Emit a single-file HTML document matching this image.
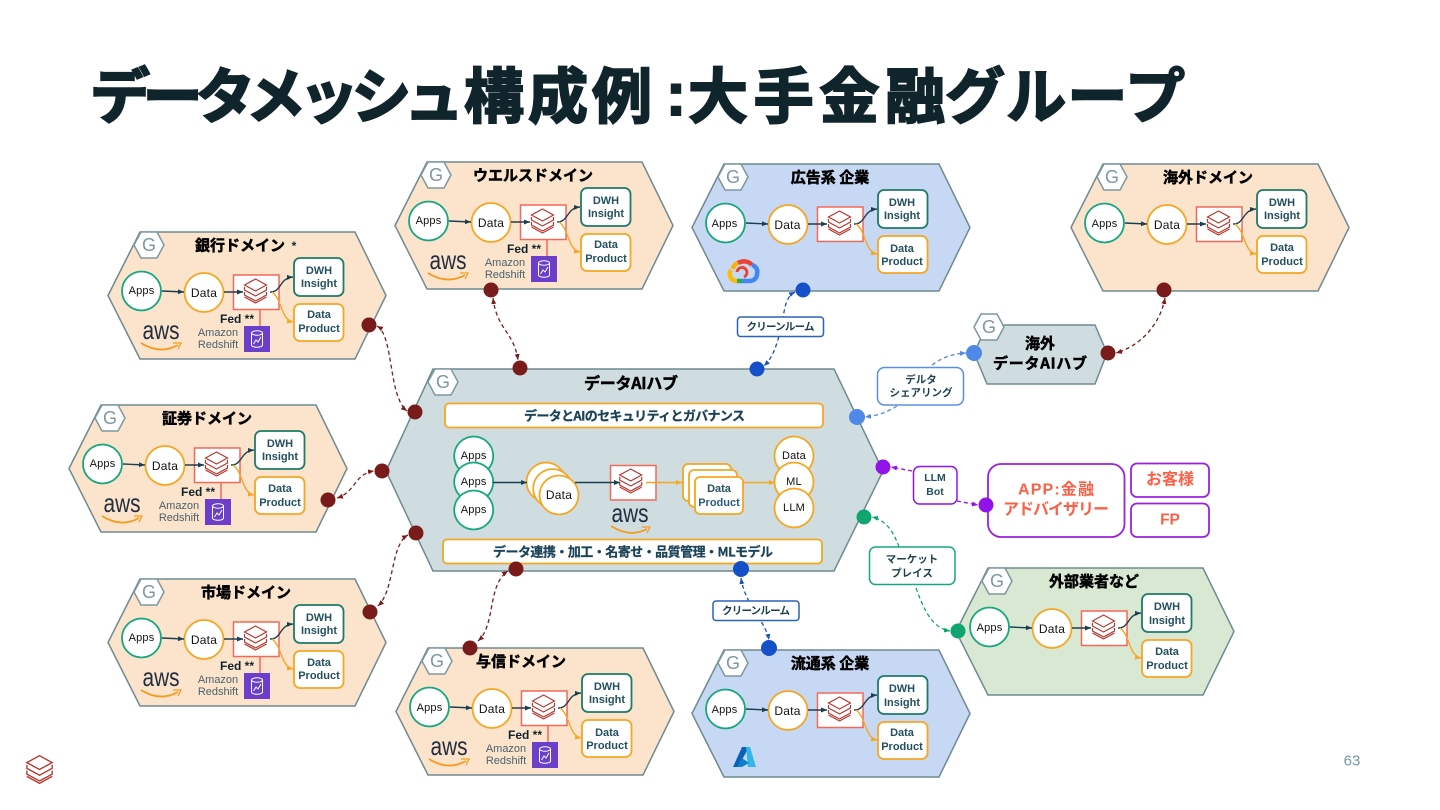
<!DOCTYPE html>
<html lang="ja"><head><meta charset="utf-8"><title>データメッシュ構成例</title>
<style>
html,body{margin:0;padding:0;background:#fff;width:1440px;height:810px;overflow:hidden}
svg{display:block}
text{font-family:"Liberation Sans","Noto Sans CJK JP",sans-serif;dominant-baseline:central;text-anchor:middle;fill:#12303c}
.t{font-family:"Liberation Sans","Noto Sans CJK JP",sans-serif;font-weight:700;font-size:60px;fill:#10242b;stroke:#10242b;stroke-width:2px;text-anchor:start}
.h{font-family:"Noto Sans CJK JP",sans-serif;font-weight:700;font-size:15px;fill:#000;stroke:#000;stroke-width:.5px}
.g{font-size:18px;fill:#7e98a0}
.a{font-size:11px;fill:#111;letter-spacing:.2px}
.d{font-size:12px;fill:#111;letter-spacing:.2px}
.b{font-size:11px;font-weight:700;fill:#24505f}
.f{font-size:12px;font-weight:700;fill:#10242b}
.r{font-size:11px;fill:#4b626c}
.w{font-size:26px;fill:#232f3e}
.l{font-family:"Noto Sans CJK JP",sans-serif;font-weight:700;font-size:10.5px;fill:#1b3f4e}
.m{font-family:"Noto Sans CJK JP",sans-serif;font-weight:700;font-size:13px;fill:#1b4258;stroke:#1b4258;stroke-width:.25px}
.o{font-family:"Liberation Sans","Noto Sans CJK JP",sans-serif;font-weight:700;font-size:16px;fill:#ff5f46}
.c{fill:none;stroke-width:1.3;stroke-dasharray:4 3}
</style></head><body>
<svg width="1440" height="810" viewBox="0 0 1440 810" xmlns="http://www.w3.org/2000/svg">
<defs>
<marker id="mk" markerUnits="userSpaceOnUse" markerWidth="7" markerHeight="6" refX="6" refY="2.5" orient="auto"><path d="M0,0L6,2.500L0,5Z" fill="#1b3f4e"/></marker>
<marker id="mo" markerUnits="userSpaceOnUse" markerWidth="7" markerHeight="6" refX="6" refY="2.5" orient="auto"><path d="M0,0L6,2.500L0,5Z" fill="#f5a623"/></marker>
<marker id="mr" markerUnits="userSpaceOnUse" markerWidth="7" markerHeight="6" refX="6" refY="2.5" orient="auto-start-reverse"><path d="M0,0L6,2.500L0,5Z" fill="#7a1b1b"/></marker>
<marker id="mb" markerUnits="userSpaceOnUse" markerWidth="7" markerHeight="6" refX="6" refY="2.5" orient="auto-start-reverse"><path d="M0,0L6,2.500L0,5Z" fill="#1550c8"/></marker>
<marker id="ml" markerUnits="userSpaceOnUse" markerWidth="7" markerHeight="6" refX="6" refY="2.5" orient="auto-start-reverse"><path d="M0,0L6,2.500L0,5Z" fill="#4f88e6"/></marker>
<marker id="mp" markerUnits="userSpaceOnUse" markerWidth="7" markerHeight="6" refX="6" refY="2.5" orient="auto-start-reverse"><path d="M0,0L6,2.500L0,5Z" fill="#9013e8"/></marker>
<marker id="mg" markerUnits="userSpaceOnUse" markerWidth="7" markerHeight="6" refX="6" refY="2.5" orient="auto-start-reverse"><path d="M0,0L6,2.500L0,5Z" fill="#0ea56e"/></marker>
<g id="logo" fill="none" stroke="#b5372e" stroke-width="1.2" stroke-linejoin="miter">
<path d="M0,-12L11,-6L0,0L-11,-6Z"/>
<path d="M-11,-4V-1L0,5L11,-1V-4"/>
<path d="M-11,1V4L0,10L11,4V1"/>
<path d="M-11,6L0,12L11,6"/>
</g>
<polygon id="gh" points="-15,0 -8,-13 8,-13 15,0 8,13 -8,13" fill="#fff" stroke="#7e98a0" stroke-width="1.5"/>
<g id="dom">
<polygon points="108,295.5 140,232 355,232 386,295.5 355,359 140,359" stroke="#6f8a90" stroke-width="1.5"/>
<use href="#gh" x="149" y="245"/>
<circle cx="141.5" cy="291" r="19.5" fill="#fff" stroke="#17a77e" stroke-width="1.8"/>
<circle cx="204" cy="292.5" r="19.5" fill="#fff" stroke="#f5a623" stroke-width="1.8"/>
<rect x="233.5" y="275" width="45.5" height="34.5" fill="#fff" stroke="#f2685a" stroke-width="1.5"/>
<use href="#logo" x="255.5" y="291"/>
<rect x="294" y="258" width="49.5" height="38" rx="6" fill="#fff" stroke="#1f7a68" stroke-width="1.8"/>
<rect x="294" y="304" width="49.5" height="37" rx="6" fill="#fff" stroke="#f5a623" stroke-width="1.8"/>
<path d="M162,291L184,292" fill="none" stroke="#1b3f4e" stroke-width="1.4" marker-end="url(#mk)"/>
<path d="M224,292H243" fill="none" stroke="#1b3f4e" stroke-width="1.4" marker-end="url(#mk)"/>
<path d="M270,292C282,292 279,278 293,277" fill="none" stroke="#1b3f4e" stroke-width="1.4" marker-end="url(#mk)"/>
<path d="M272,292C282,299 281,320 293,322" fill="none" stroke="#f5a623" stroke-width="1.4" marker-end="url(#mo)"/>
</g>
<g id="rs">
<path d="M260,309.5V326" stroke="#f2685a" stroke-width="1.5"/>
<rect x="244" y="326" width="26" height="26" fill="#6b3fc9"/>
<ellipse cx="257" cy="333" rx="5.5" ry="2.2" fill="none" stroke="#fff"/>
<path d="M251.500,333V345C251.500,348 262.500,348 262.500,345V333M253.500,344L256,340L258,342L261,337" fill="none" stroke="#fff"/>
<path d="M141,343Q160,355 178,345" fill="none" stroke="#f59a1b" stroke-width="1.8"/>
<path d="M173,343L181,343L178,349" fill="none" stroke="#f59a1b" stroke-width="1.2"/>
</g>
<g id="sm"><path d="M-19,-3Q0,9 17,0" fill="none" stroke="#f59a1b" stroke-width="1.8"/><path d="M12,-2L20,-2L17,4" fill="none" stroke="#f59a1b" stroke-width="1.2"/></g>
</defs>

<text class="t" x="90" y="97.500" textLength="374">データメッシュ</text>
<text class="t" x="464" y="97.500" textLength="188">構成例</text>
<text class="t" x="666" y="94.500">:</text>
<text class="t" x="688" y="97.500" textLength="257">大手金融</text>
<text class="t" x="945" y="97.500" textLength="240">グループ</text>

<!-- hub -->
<polygon points="386,471 433,369 834,369 883,471 834,571 433,571" fill="#cfdde1" stroke="#6f8a90" stroke-width="1.5"/>
<use href="#gh" x="443" y="382"/><text class="g" x="443" y="382">G</text>
<text class="h" x="631" y="382" style="font-size:16px" textLength="94">データAIハブ</text>
<rect x="445" y="403.500" width="378" height="24" rx="4" fill="#fff" stroke="#f5a623" stroke-width="1.8"/>
<text class="m" x="634.500" y="415" textLength="221">データとAIのセキュリティとガバナンス</text>
<rect x="443" y="539.500" width="379" height="24" rx="4" fill="#fff" stroke="#f5a623" stroke-width="1.8"/>
<text class="m" x="633" y="551" textLength="280">データ連携・加工・名寄せ・品質管理・MLモデル</text>
<g fill="#fff" stroke="#17a77e" stroke-width="1.8"><circle cx="473.700" cy="456" r="19.500"/><circle cx="473.700" cy="482" r="19.500"/><circle cx="473.700" cy="510" r="19.500"/></g>
<text class="a" x="473.700" y="456">Apps</text><text class="a" x="473.700" y="482">Apps</text><text class="a" x="473.700" y="510">Apps</text>
<g fill="#fff" stroke="#f5a623" stroke-width="1.8"><circle cx="546" cy="482" r="19.500"/><circle cx="552.700" cy="488.500" r="19.500"/><circle cx="559" cy="495" r="19.500"/></g>
<text class="d" x="559" y="495">Data</text>
<rect x="610.500" y="465.500" width="45.500" height="34.500" fill="#fff" stroke="#f2685a" stroke-width="1.500"/>
<use href="#logo" x="630.700" y="481"/>
<text class="w" x="630" y="513" textLength="37" lengthAdjust="spacingAndGlyphs">aws</text>
<use href="#sm" x="630" y="529"/>
<g fill="#fff" stroke="#f5a623" stroke-width="1.800"><rect x="683" y="464" width="48" height="37" rx="5"/><rect x="689" y="470" width="48" height="37" rx="5"/><rect x="695" y="477" width="48" height="37" rx="5"/></g>
<text class="b" x="719" y="489">Data</text><text class="b" x="719" y="503" style="fill:#2a5a80">Product</text>
<g fill="#fff" stroke="#f5a623" stroke-width="1.800"><circle cx="794" cy="456" r="19.500"/><circle cx="794" cy="482" r="19.500"/><circle cx="794" cy="508" r="19.500"/></g>
<text class="a" x="794" y="456">Data</text><text class="a" x="794" y="482">ML</text><text class="a" x="794" y="508">LLM</text>
<path d="M493,482.500H527" stroke="#1b3f4e" stroke-width="1.400" marker-end="url(#mk)"/>
<path d="M575,482.500H620" stroke="#1b3f4e" stroke-width="1.400" marker-end="url(#mk)"/>
<path d="M646,482.500H682" stroke="#f5a623" stroke-width="1.400" marker-end="url(#mo)"/>
<path d="M743,482.500H775" stroke="#f5a623" stroke-width="1.400" marker-end="url(#mo)"/>

<!-- overseas hub -->
<polygon points="974,353 987,325 1095,325 1107,353 1095,384 987,384" fill="#cfdde1" stroke="#6f8a90" stroke-width="1.500"/>
<use href="#gh" x="989" y="327"/><text class="g" x="989" y="327">G</text>
<text class="h" x="1040" y="343">海外</text>
<text class="h" x="1040" y="363" textLength="94">データAIハブ</text>

<!-- domains -->
<use href="#dom" fill="#fbe3cc"/>
<text class="g" x="149" y="245">G</text><text class="h" x="240" y="245">銀行ドメイン</text><text class="f" x="294" y="246">*</text>
<text class="a" x="141.500" y="291">Apps</text><text class="d" x="204" y="293">Data</text>
<text class="b" x="319" y="271">DWH</text><text class="b" x="319" y="284">Insight</text>
<text class="b" x="319" y="315">Data</text><text class="b" x="319" y="329">Product</text>
<use href="#rs"/><text class="f" x="237" y="319">Fed **</text><text class="r" x="218" y="333">Amazon</text><text class="r" x="218" y="345">Redshift</text>
<text class="w" x="161" y="330" textLength="37" lengthAdjust="spacingAndGlyphs">aws</text>

<g transform="translate(287,-70)">
<use href="#dom" fill="#fbe3cc"/>
<text class="g" x="149" y="245">G</text><text class="h" x="246" y="245">ウエルスドメイン</text>
<text class="a" x="141.500" y="291">Apps</text><text class="d" x="204" y="293">Data</text>
<text class="b" x="319" y="271">DWH</text><text class="b" x="319" y="284">Insight</text>
<text class="b" x="319" y="315">Data</text><text class="b" x="319" y="329">Product</text>
<use href="#rs"/><text class="f" x="237" y="319">Fed **</text><text class="r" x="218" y="333">Amazon</text><text class="r" x="218" y="345">Redshift</text>
<text class="w" x="161" y="330" textLength="37" lengthAdjust="spacingAndGlyphs">aws</text>
</g>

<g transform="translate(-39,173)">
<use href="#dom" fill="#fbe3cc"/>
<text class="g" x="149" y="245">G</text><text class="h" x="246" y="245">証券ドメイン</text>
<text class="a" x="141.500" y="291">Apps</text><text class="d" x="204" y="293">Data</text>
<text class="b" x="319" y="271">DWH</text><text class="b" x="319" y="284">Insight</text>
<text class="b" x="319" y="316">Data</text><text class="b" x="319" y="330">Product</text>
<use href="#rs"/><text class="f" x="237" y="319">Fed **</text><text class="r" x="218" y="333">Amazon</text><text class="r" x="218" y="345">Redshift</text>
<text class="w" x="161" y="330" textLength="37" lengthAdjust="spacingAndGlyphs">aws</text>
</g>

<g transform="translate(0,347)">
<use href="#dom" fill="#fbe3cc"/>
<text class="g" x="149" y="245">G</text><text class="h" x="246" y="245">市場ドメイン</text>
<text class="a" x="141.500" y="291">Apps</text><text class="d" x="204" y="293">Data</text>
<text class="b" x="319" y="271">DWH</text><text class="b" x="319" y="284">Insight</text>
<text class="b" x="319" y="316">Data</text><text class="b" x="319" y="329">Product</text>
<use href="#rs"/><text class="f" x="237" y="319">Fed **</text><text class="r" x="218" y="333">Amazon</text><text class="r" x="218" y="345">Redshift</text>
<text class="w" x="161" y="330" textLength="37" lengthAdjust="spacingAndGlyphs">aws</text>
</g>

<g transform="translate(288,416)">
<use href="#dom" fill="#fbe3cc"/>
<text class="g" x="149" y="245">G</text><text class="h" x="233" y="245">与信ドメイン</text>
<text class="a" x="141.500" y="292">Apps</text><text class="d" x="204" y="293">Data</text>
<text class="b" x="319" y="271">DWH</text><text class="b" x="319" y="284">Insight</text>
<text class="b" x="319" y="317">Data</text><text class="b" x="319" y="330">Product</text>
<use href="#rs"/><text class="f" x="237" y="319">Fed **</text><text class="r" x="218" y="333">Amazon</text><text class="r" x="218" y="345">Redshift</text>
<text class="w" x="161" y="330" textLength="37" lengthAdjust="spacingAndGlyphs">aws</text>
</g>

<g transform="translate(584,-68)">
<use href="#dom" fill="#c6d8f3"/>
<text class="g" x="149" y="245">G</text><text class="h" x="246" y="245">広告系 企業</text>
<text class="a" x="140.500" y="292">Apps</text><text class="d" x="203.500" y="293">Data</text>
<text class="b" x="318" y="271">DWH</text><text class="b" x="318" y="284">Insight</text>
<text class="b" x="318" y="317">Data</text><text class="b" x="318" y="330">Product</text>
</g>

<g transform="translate(584,418)">
<use href="#dom" fill="#c6d8f3"/>
<text class="g" x="149" y="245">G</text><text class="h" x="246" y="245">流通系 企業</text>
<text class="a" x="140.500" y="292">Apps</text><text class="d" x="203.500" y="293">Data</text>
<text class="b" x="318" y="271">DWH</text><text class="b" x="318" y="285">Insight</text>
<text class="b" x="318" y="315">Data</text><text class="b" x="318" y="329">Product</text>
</g>

<g transform="translate(963,-68)">
<use href="#dom" fill="#fbe3cc"/>
<text class="g" x="149" y="245">G</text><text class="h" x="245" y="245">海外ドメイン</text>
<text class="a" x="141.500" y="292">Apps</text><text class="d" x="204" y="293">Data</text>
<text class="b" x="319" y="271">DWH</text><text class="b" x="319" y="284">Insight</text>
<text class="b" x="319" y="316">Data</text><text class="b" x="319" y="330">Product</text>
</g>

<g transform="translate(848,336)">
<use href="#dom" fill="#d9e8d2"/>
<text class="g" x="149" y="245">G</text><text class="h" x="246" y="245">外部業者など</text>
<text class="a" x="141.500" y="292">Apps</text><text class="d" x="204" y="293">Data</text>
<text class="b" x="319" y="271">DWH</text><text class="b" x="319" y="285">Insight</text>
<text class="b" x="319" y="316">Data</text><text class="b" x="319" y="330">Product</text>
</g>

<!-- GCP icon -->
<g fill="none" stroke-width="4.500" stroke-linecap="butt">
<path d="M733,269A7,7 0 0 1 738,263" stroke="#f5b400"/>
<path d="M738,263A11,11 0 0 1 752,265" stroke="#ea4335"/>
<path d="M752,265A7,7 0 0 1 757,274A7,7 0 0 1 750,281H742" stroke="#4285f4"/>
<path d="M742,281H737" stroke="#34a853"/>
<path d="M737,281A7,7 0 0 1 731,270" stroke="#fbbc05"/>
<path d="M737,272A5,5 0 1 1 744,277" stroke="#ea4335" stroke-width="3"/>
</g>
<!-- Azure icon -->
<path d="M742,747H749L738,767H733Z" fill="#0a62b8"/>
<path d="M746,747H750L756,767H748Z" fill="#35b6ea"/>
<path d="M742,758L749,763L742,767H737Z" fill="#0f7fd0"/>

<!-- bottom logo & page number -->
<use href="#logo" transform="translate(39.500,769.500) scale(1.150)"/>
<text x="1352" y="761" style="font-size:15px;fill:#7197ad">63</text>

<!-- connectors -->
<g class="c" style="fill:none">
<path class="c" stroke="#7a1b1b" d="M377,326C394,336 388,396 407,411" marker-start="url(#mr)" marker-end="url(#mr)"/>
<path class="c" stroke="#7a1b1b" d="M493,298C497,330 514,332 518,360" marker-start="url(#mr)" marker-end="url(#mr)"/>
<path class="c" stroke="#7a1b1b" d="M337,498C356,492 354,474 374,471" marker-start="url(#mr)" marker-end="url(#mr)"/>
<path class="c" stroke="#7a1b1b" d="M378,606C395,590 390,545 408,535" marker-start="url(#mr)" marker-end="url(#mr)"/>
<path class="c" stroke="#7a1b1b" d="M478,641C496,625 487,585 508,571" marker-start="url(#mr)" marker-end="url(#mr)"/>
<path class="c" stroke="#7a1b1b" d="M1165,298C1160,325 1140,346 1116,353" marker-start="url(#mr)" marker-end="url(#mr)"/>
<path class="c" stroke="#1550c8" d="M795,292C783,298 785,315 779,336C775,350 772,358 764,366" marker-start="url(#mb)" marker-end="url(#mb)"/>
<path class="c" stroke="#1550c8" d="M741,578C745,605 765,620 769,640" marker-start="url(#mb)" marker-end="url(#mb)"/>
<path class="c" stroke="#4f88e6" d="M932,365C942,358 950,354 966,353" marker-end="url(#ml)"/>
<path class="c" stroke="#4f88e6" d="M897,406C885,413 880,415 865,417" marker-end="url(#ml)"/>
<path class="c" stroke="#9013e8" d="M912,471L891,467" marker-end="url(#mp)"/>
<path class="c" stroke="#9013e8" d="M957,501L978,505" marker-end="url(#mp)"/>
<path class="c" stroke="#0ea56e" d="M899,547C893,530 885,520 872,517" marker-end="url(#mg)"/>
<path class="c" stroke="#0ea56e" d="M916,588C924,610 932,628 950,631" marker-end="url(#mg)"/>
</g>

<!-- labels -->
<rect x="737.500" y="317" width="86" height="19.500" rx="3" fill="#fff" stroke="#2a62b8" stroke-width="1.500"/>
<text class="l" x="780.500" y="326.500" textLength="68">クリーンルーム</text>
<rect x="713" y="601" width="86" height="19.500" rx="3" fill="#fff" stroke="#2a62b8" stroke-width="1.500"/>
<text class="l" x="756" y="610.500" textLength="68">クリーンルーム</text>
<rect x="877.500" y="367.500" width="86" height="37.500" rx="7" fill="#fff" stroke="#5a90e0" stroke-width="1.500"/>
<text class="l" x="921" y="379.500">デルタ</text><text class="l" x="921" y="392.500">シェアリング</text>
<rect x="913.500" y="466.500" width="43.500" height="37.500" rx="6" fill="#fff" stroke="#9013e8" stroke-width="1.500"/>
<text class="b" x="935" y="478" style="font-size:10.500px">LLM</text><text class="b" x="935" y="492" style="font-size:10.500px">Bot</text>
<rect x="869.500" y="547" width="85.500" height="37.500" rx="6" fill="#fff" stroke="#17a77e" stroke-width="1.500"/>
<text class="l" x="912" y="559">マーケット</text><text class="l" x="912" y="573">プレイス</text>
<rect x="988" y="464" width="136.500" height="73" rx="13" fill="#fff" stroke="#9b20e0" stroke-width="1.800"/>
<text class="o" x="1056" y="490" textLength="76">APP:金融</text><text class="o" x="1056" y="510" textLength="106">アドバイザリー</text>
<rect x="1131" y="463.500" width="78" height="33.500" rx="6" fill="#fff" stroke="#9b20e0" stroke-width="1.800"/>
<text class="o" x="1170" y="480">お客様</text>
<rect x="1131" y="503.500" width="78" height="33.500" rx="6" fill="#fff" stroke="#9b20e0" stroke-width="1.800"/>
<text class="o" x="1170" y="520" style="font-size:15.500px">FP</text>

<!-- dots -->
<g fill="#7a1b1b"><circle cx="369" cy="325" r="7.500"/><circle cx="415" cy="412" r="7.500"/><circle cx="382" cy="471" r="7.500"/><circle cx="328" cy="500" r="7.500"/><circle cx="416" cy="533" r="7.500"/><circle cx="370" cy="612" r="7.500"/><circle cx="491" cy="290" r="7.500"/><circle cx="520" cy="368" r="7.500"/><circle cx="516" cy="569" r="7.500"/><circle cx="470" cy="648" r="7.500"/><circle cx="1164" cy="290" r="7.500"/><circle cx="1108" cy="353" r="7.500"/></g>
<g fill="#1550c8"><circle cx="803" cy="290" r="7.500"/><circle cx="757" cy="369" r="7.500"/><circle cx="741" cy="569" r="8"/><circle cx="769" cy="648" r="8"/></g>
<g fill="#4f88e6"><circle cx="974" cy="353" r="8"/><circle cx="857" cy="417" r="8"/></g>
<g fill="#9013e8"><circle cx="883" cy="467" r="7.500"/><circle cx="986" cy="505" r="7.500"/></g>
<g fill="#0ea56e"><circle cx="864" cy="517" r="7.500"/><circle cx="958" cy="631" r="7.500"/></g>
</svg>
</body></html>
